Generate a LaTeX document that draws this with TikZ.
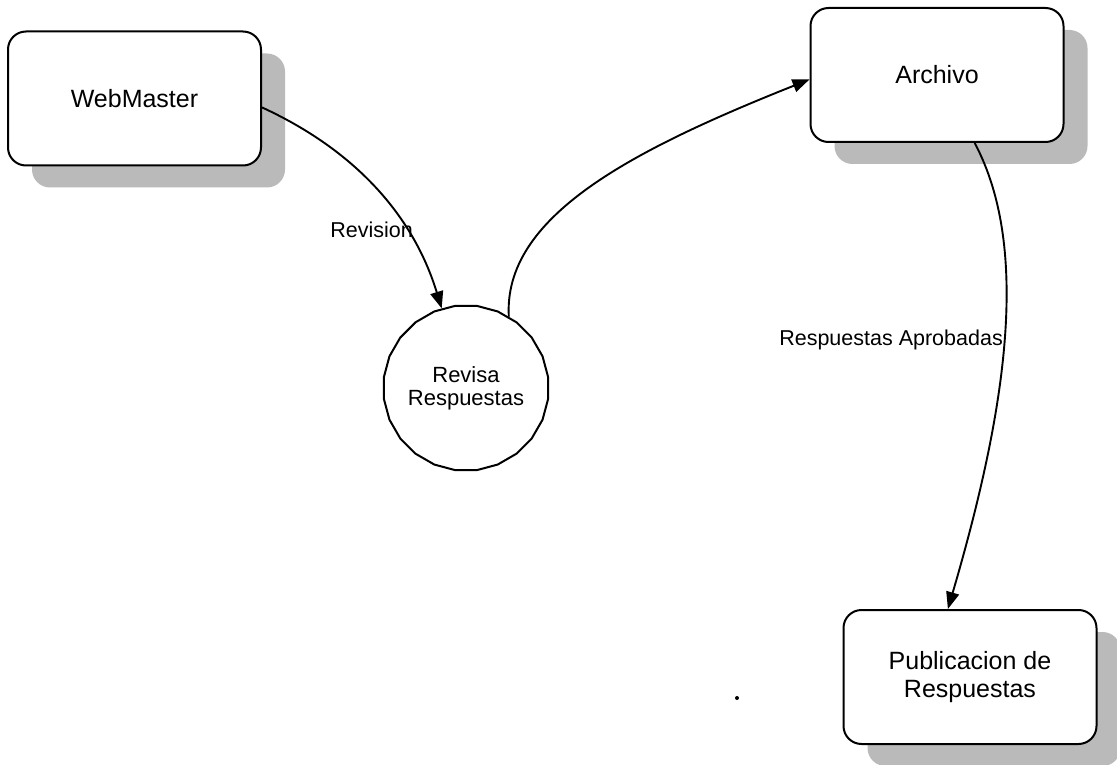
\documentclass[tikz,border=0pt]{standalone}
\usepackage{fontspec}
\setmainfont{Liberation Sans}
\usetikzlibrary{arrows.meta,shapes.geometric,shadows}
\begin{document}
\begin{tikzpicture}[x=1pt,y=-1pt,
  entity/.style={draw=black, line width=2pt, fill=white, rounded corners=18pt,
    minimum width=253pt, minimum height=134pt, align=center,
    font=\fontsize{25}{28}\selectfont,
    drop shadow={shadow xshift=24pt, shadow yshift=-22pt, fill=black!27, opacity=1}},
  process/.style={draw=black, line width=2pt, fill=white, regular polygon, regular polygon sides=24,
    minimum size=142pt, inner sep=0pt, align=center, font=\fontsize{22}{23}\selectfont},
  flow/.style={draw=black, line width=1.9pt, -{Triangle[length=17pt,width=13pt]}},
  flowlabel/.style={font=\fontsize{21.5}{24}\selectfont, inner sep=0pt}
]
\useasboundingbox[fill=white] (0,0) rectangle (1117,765);

\node[entity] (web) at (134.5,98.5) {WebMaster};
\node[entity] (arch) at (937,75) {Archivo};
\node[entity] (pub) at (970,677) {Publicacion de\\Respuestas};
\node[process] (rev) at (466,388) {Revisa\\Respuestas};

\draw[flow] (web.-4) .. controls (361,153) and (415,221) .. (rev.107);
\draw[flow] (rev.59) .. controls (503,217) and (630,151) .. (arch.182);
\draw[flow] (arch.-61) .. controls (1031,249) and (1006,411) .. (pub.108);

\node[flowlabel, anchor=east] (lrev) at (413,230) {Revision};
\node[flowlabel, anchor=east] (lapr) at (1003,340) {Respuestas Aprobadas};

\fill[black] (737,698) circle (2pt);
\end{tikzpicture}
\end{document}
